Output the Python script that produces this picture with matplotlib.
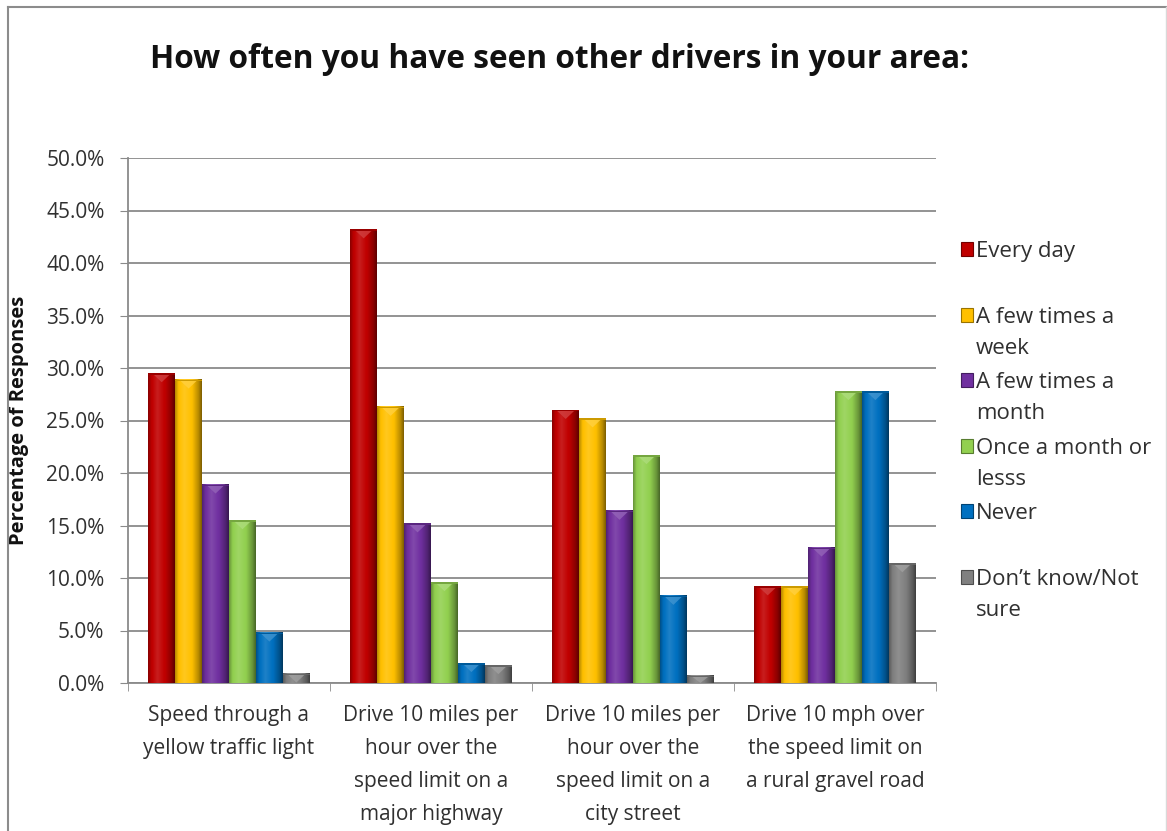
import matplotlib
matplotlib.use("Agg")
import matplotlib.pyplot as plt
import numpy as np
from matplotlib.colors import to_rgb
from matplotlib.patches import Rectangle, Polygon

plt.rcParams['font.family'] = ['Open Sans', 'DejaVu Sans']

# Data (percent of responses)
categories = ["Speed through a\nyellow traffic light",
              "Drive 10 miles per\nhour over the\nspeed limit on a\nmajor highway",
              "Drive 10 miles per\nhour over the\nspeed limit on a\ncity street",
              "Drive 10 mph over\nthe speed limit on\na rural gravel road"]
series_names = ["Every day", "A few times a\nweek", "A few times a\nmonth",
                "Once a month or\nlesss", "Never", "Don\u2019t know/Not\nsure"]
every_day = [29.5, 43.2, 26.0, 9.2]
few_week = [28.9, 26.3, 25.2, 9.2]
few_month = [18.9, 15.2, 16.4, 12.9]
once_month = [15.5, 9.6, 21.7, 27.8]
never = [4.8, 1.9, 8.3, 27.8]
dont_know = [0.9, 1.7, 0.7, 11.4]
values = [every_day, few_week, few_month, once_month, never, dont_know]
colors = ["#C00000", "#FFC000", "#7030A0", "#92D050", "#0070C0", "#808080"]
yticks = np.arange(0, 50.1, 5)

W, H = 1167, 831
fig = plt.figure(figsize=(W / 100, H / 100), dpi=100)
ax = fig.add_axes([128 / W, 1 - 683 / H, 808 / W, 525 / H])

# border of chart area
fig.add_artist(plt.Line2D([8 / W, 8 / W], [0, 1 - 7 / H], color="#8c8c8c", lw=1.5))
fig.add_artist(plt.Line2D([8 / W, 1166 / W], [1 - 7 / H, 1 - 7 / H], color="#8c8c8c", lw=1.5))
fig.add_artist(plt.Line2D([1166 / W, 1166 / W], [0, 1 - 7 / H], color="#d9d9d9", lw=1))


def shade(c, f):
    c = np.array(to_rgb(c))
    if f <= 1:
        return c * f
    return c + (1 - c) * (f - 1)


# bevel profile across a bar
prof_t = [0.0, 0.12, 0.35, 0.65, 0.88, 1.0]
prof_f = [0.72, 0.98, 1.12, 0.98, 0.72, 0.5]
tt = np.linspace(0, 1, 40)
ff = np.interp(tt, prof_t, prof_f)

x = np.arange(len(categories))
n = len(values)
bw = 0.8 / n
ax.set_xlim(-0.5, len(categories) - 0.5)
ax.set_ylim(0, 50)

bars = []
for i, (vals, col) in enumerate(zip(values, colors)):
    b = ax.bar(x - 0.4 + bw * (i + 0.5), vals, bw, color=col, zorder=3, linewidth=0)
    bars.append(b)

# pixel-size in data units for the little top bevel
dy_px = 50 / 525.0
for b, col in zip(bars, colors):
    grad = np.array([[shade(col, f) for f in ff]])
    for p in b.patches:
        x0, w, h = p.get_x(), p.get_width(), p.get_height()
        ax.imshow(grad, extent=(x0, x0 + w, 0, h), aspect='auto', zorder=4,
                  interpolation='bilinear')
        th = min(9 * dy_px, h)
        tri = Polygon([(x0 + w * 0.15, h), (x0 + w * 0.85, h), (x0 + w * 0.5, h - th)],
                      closed=True, facecolor=shade(col, 1.25), edgecolor='none',
                      alpha=0.8, zorder=5)
        ax.add_patch(tri)
        ax.add_patch(Rectangle((x0, h - 1.5 * dy_px), w, 1.5 * dy_px,
                               facecolor=shade(col, 0.8), edgecolor='none', zorder=5))

ax.set_xlim(-0.5, len(categories) - 0.5)
ax.set_ylim(0, 50)

# axes styling
ax.set_yticks(yticks)
ax.set_yticklabels(["{:.1f}%".format(v) for v in yticks])
ax.yaxis.grid(True, color="#8a8a8a", lw=1.3, zorder=0)
ax.set_axisbelow(True)
for s in ["top", "right"]:
    ax.spines[s].set_visible(False)
for s in ["left", "bottom"]:
    ax.spines[s].set_color("#8a8a8a")
    ax.spines[s].set_linewidth(1.3)
ax.tick_params(axis='y', length=6, color="#8a8a8a", labelsize=15, labelcolor="#303030", pad=11)
ax.set_xticks(x)
ax.set_xticklabels(categories, fontsize=15, color="#303030", linespacing=1.75)
ax.set_xticks(np.arange(-0.5, len(categories), 1), minor=True)
ax.tick_params(axis='x', which='major', length=0, pad=16)
ax.tick_params(axis='x', which='minor', length=6, color="#8a8a8a")

ax.set_ylabel("Percentage of Responses", fontsize=14.5, fontweight='bold', color="#111111")
ax.yaxis.set_label_coords(-0.123, 0.5)

fig.text(559 / W, 1 - 59 / H, "How often you have seen other drivers in your area:",
         ha='center', va='center', fontsize=22.8, fontweight='bold', color="#111111")

# legend drawn by hand so marker sits with first line
for i, (name, col) in enumerate(zip(series_names, colors)):
    yc = 249 + 65.6 * i
    fig.add_artist(Rectangle((961 / W, 1 - (yc + 7) / H), 12 / W, 14 / H,
                             facecolor=col, edgecolor=shade(col, 0.6), lw=0.8))
    fig.text(976 / W, 1 - (yc - 8) / H, name, ha='left', va='top', fontsize=16,
             color="#303030", linespacing=1.62)

fig.savefig("out.png", dpi=100)
